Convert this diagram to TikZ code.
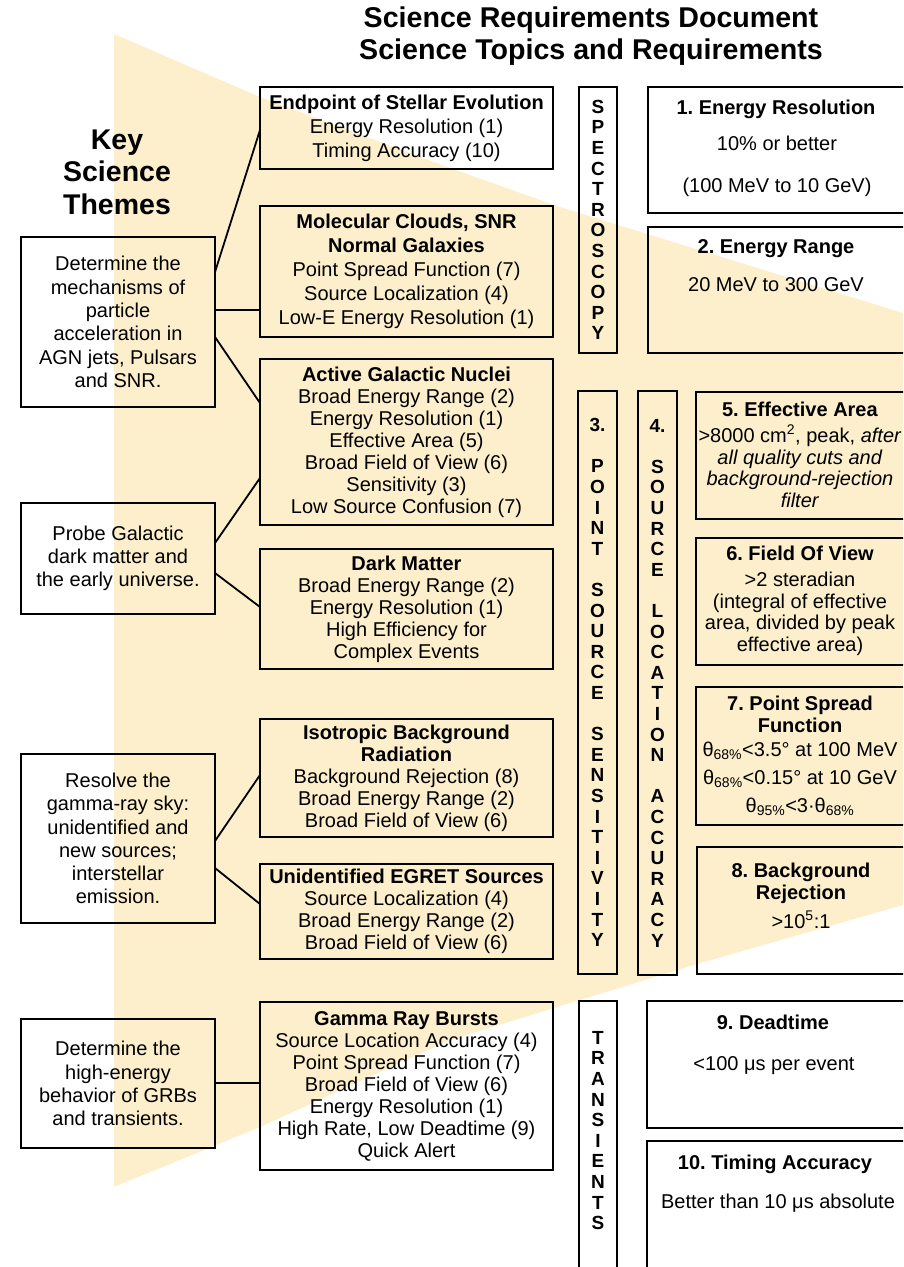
\documentclass[tikz,border=0pt]{standalone}
\usepackage{fontspec}
\setmainfont{Liberation Sans}
\definecolor{beam}{RGB}{253,239,204}
\frenchspacing
\begin{document}
\begin{tikzpicture}[x=1pt,y=-1pt,
  every node/.style={inner sep=0pt, outer sep=0pt},
  boxline/.style={draw=black, line width=1.8pt},
  topic/.style={boxline, align=center, minimum width=293pt, font=\fontsize{20}{22}\selectfont},
  theme/.style={boxline, align=center, minimum width=194pt, font=\fontsize{20}{23.3}\selectfont},
  vbar/.style={boxline, minimum width=38pt, align=center, font=\bfseries\fontsize{19}{20.6}\selectfont},
  req/.style={boxline, anchor=north west},
  reqtxt/.style={align=center, font=\fontsize{20}{21.7}\selectfont},
  reqhead/.style={align=center, font=\bfseries\fontsize{20}{22}\selectfont},
  link/.style={line width=1.8pt, line cap=round}
]
\useasboundingbox (0,0) rectangle (903,1267);
\clip (0,0) rectangle (903,1267);

% light beam
\fill[beam] (114,34) -- (260,97) -- (450,168) -- (560,207) -- (903,313)
  -- (903,905) -- (697,964) -- (450,1040) -- (260,1127) -- (114,1187) -- cycle;

% titles
\node[align=center, font=\bfseries\fontsize{28.6}{32}\selectfont] (title) at (591,36)
  {Science Requirements Document\\Science Topics and Requirements};
\node[align=center, font=\bfseries\fontsize{28.5}{32.5}\selectfont] (keyth) at (117,172)
  {Key\\Science\\Themes};

% theme boxes
\node[theme, minimum height=170pt] (th1) at (118,322)
  {Determine the\\mechanisms of\\particle\\acceleration in\\AGN jets, Pulsars\\and SNR.};
\node[theme, minimum height=111pt] (th2) at (118,558.5)
  {Probe Galactic\\dark matter and\\the early universe.};
\node[theme, minimum height=169pt] (th3) at (118,838.5)
  {Resolve the\\gamma-ray sky:\\unidentified and\\new sources;\\interstellar\\emission.};
\node[theme, minimum height=129pt] (th4) at (118,1083.5)
  {Determine the\\high-energy\\behavior of GRBs\\and transients.};

% topic boxes
\node[topic, minimum height=82pt, font=\fontsize{20}{24}\selectfont] (endp) at (406.5,128)
  {\textbf{Endpoint of Stellar Evolution}\\Energy Resolution (1)\\Timing Accuracy (10)};
\node[topic, minimum height=131pt, font=\fontsize{20}{24}\selectfont] (molec) at (406.5,271.5)
  {\textbf{Molecular Clouds, SNR}\\\textbf{Normal Galaxies}\\Point Spread Function (7)\\Source Localization (4)\\Low-E Energy Resolution (1)};
\node[topic, minimum height=166pt] (agn) at (406.5,442)
  {\textbf{Active Galactic Nuclei}\\Broad Energy Range (2)\\Energy Resolution (1)\\Effective Area (5)\\Broad Field of View (6)\\Sensitivity (3)\\Low Source Confusion (7)};
\node[topic, minimum height=120pt] (dark) at (406.5,609)
  {\textbf{Dark Matter}\\Broad Energy Range (2)\\Energy Resolution (1)\\High Efficiency for\\Complex Events};
\node[topic, minimum height=118pt] (iso) at (406.5,778)
  {\textbf{Isotropic Background}\\\textbf{Radiation}\\Background Rejection (8)\\Broad Energy Range (2)\\Broad Field of View (6)};
\node[topic, minimum height=95pt] (unid) at (406.5,911.5)
  {\textbf{Unidentified EGRET Sources}\\Source Localization (4)\\Broad Energy Range (2)\\Broad Field of View (6)};
\node[topic, minimum height=168pt] (grb) at (406.5,1086)
  {\textbf{Gamma Ray Bursts}\\Source Location Accuracy (4)\\Point Spread Function (7)\\Broad Field of View (6)\\Energy Resolution (1)\\High Rate, Low Deadtime (9)\\Quick Alert};

% connectors
\draw[link] ([yshift=50pt]th1.east) -- ([yshift=-2pt]endp.west);
\draw[link] ([yshift=12pt]th1.east) -- ([yshift=-38.5pt]molec.west);
\draw[link] ([yshift=-15pt]th1.east) -- ([yshift=39pt]agn.west);
\draw[link] ([yshift=15.5pt]th2.east) -- ([yshift=-36pt]agn.west);
\draw[link] ([yshift=-14.5pt]th2.east) -- ([yshift=2pt]dark.west);
\draw[link] ([yshift=-2.5pt]th3.east) -- ([yshift=3pt]iso.west);
\draw[link] ([yshift=-29.5pt]th3.east) -- ([yshift=7.5pt]unid.west);
\draw[link] ([yshift=0.5pt]th4.east) -- ([yshift=3pt]grb.west);

% vertical bars
\node[vbar, minimum height=266pt] (spec) at (598,220)
  {S\\P\\E\\C\\T\\R\\O\\S\\C\\O\\P\\Y};
\node[vbar, minimum height=583pt, minimum width=39pt] (pss) at (597.5,682.5)
  {3.\\[20.6pt]P\\O\\I\\N\\T\\[20.6pt]S\\O\\U\\R\\C\\E\\[20.6pt]S\\E\\N\\S\\I\\T\\I\\V\\I\\T\\Y};
\node[vbar, minimum height=584pt, minimum width=39pt] (sla) at (657.5,683)
  {4.\\[20.6pt]S\\O\\U\\R\\C\\E\\[20.6pt]L\\O\\C\\A\\T\\I\\O\\N\\[20.6pt]A\\C\\C\\U\\R\\A\\C\\Y};
\node[vbar, minimum height=280pt, anchor=north] (trans) at (598,1001) {};
\node[align=center, font=\bfseries\fontsize{19}{20.6}\selectfont] (transl) at (598,1130.5)
  {T\\R\\A\\N\\S\\I\\E\\N\\T\\S};

% requirement boxes
\node[req, minimum width=262pt, minimum height=126pt] (rb1) at (648,87) {};
\node[reqhead] (rb1h) at (776,109) {1. Energy Resolution};
\node[reqtxt] (rb1a) at (777,143) {10\% or better};
\node[reqtxt] (rb1b) at (777,187) {(100 MeV to 10 GeV)};

\node[req, minimum width=262pt, minimum height=126pt] (rb2) at (648,227) {};
\node[reqhead] (rb2h) at (776,249) {2. Energy Range};
\node[reqtxt] (rb2a) at (776,285) {20 MeV to 300 GeV};

\node[req, minimum width=214pt, minimum height=127pt] (rb5) at (696,392) {};
\node[reqtxt] (rb5t) at (800,455)
  {\textbf{5. Effective Area}\\[4pt]>8000 cm\textsuperscript{2}, peak, \textit{after}\\\textit{all quality cuts and}\\\textit{background-rejection}\\\textit{filter}};

\node[req, minimum width=214pt, minimum height=127pt] (rb6) at (696,538) {};
\node[reqtxt] (rb6t) at (800,601)
  {\textbf{6. Field Of View}\\[4pt]>2 steradian\\(integral of effective\\area, divided by peak\\effective area)};

\node[req, minimum width=214pt, minimum height=138pt] (rb7) at (696,687) {};
\node[reqtxt] (rb7t) at (800,756)
  {\textbf{7. Point Spread}\\\textbf{Function}\\[2pt]θ\textsubscript{68\%}<3.5° at 100 MeV\\[7pt]θ\textsubscript{68\%}<0.15° at 10 GeV\\[6pt]θ\textsubscript{95\%}<3·θ\textsubscript{68\%}};

\node[req, minimum width=213pt, minimum height=127pt] (rb8) at (697,847) {};
\node[reqhead] (rb8h) at (801,883) {8. Background\\Rejection};
\node[reqtxt] (rb8a) at (801,920) {>10\textsuperscript{5}:1};

\node[req, minimum width=263pt, minimum height=127pt] (rb9) at (647,1001) {};
\node[reqhead] (rb9h) at (773,1022) {9. Deadtime};
\node[reqtxt] (rb9a) at (774,1066) {<100 μs per event};

\node[req, minimum width=263pt, minimum height=140pt] (rb10) at (647,1141) {};
\node[reqhead] (rb10h) at (775,1164) {10. Timing Accuracy};
\node[reqtxt] (rb10a) at (778,1203) {Better than 10 μs absolute};
\end{tikzpicture}
\end{document}
